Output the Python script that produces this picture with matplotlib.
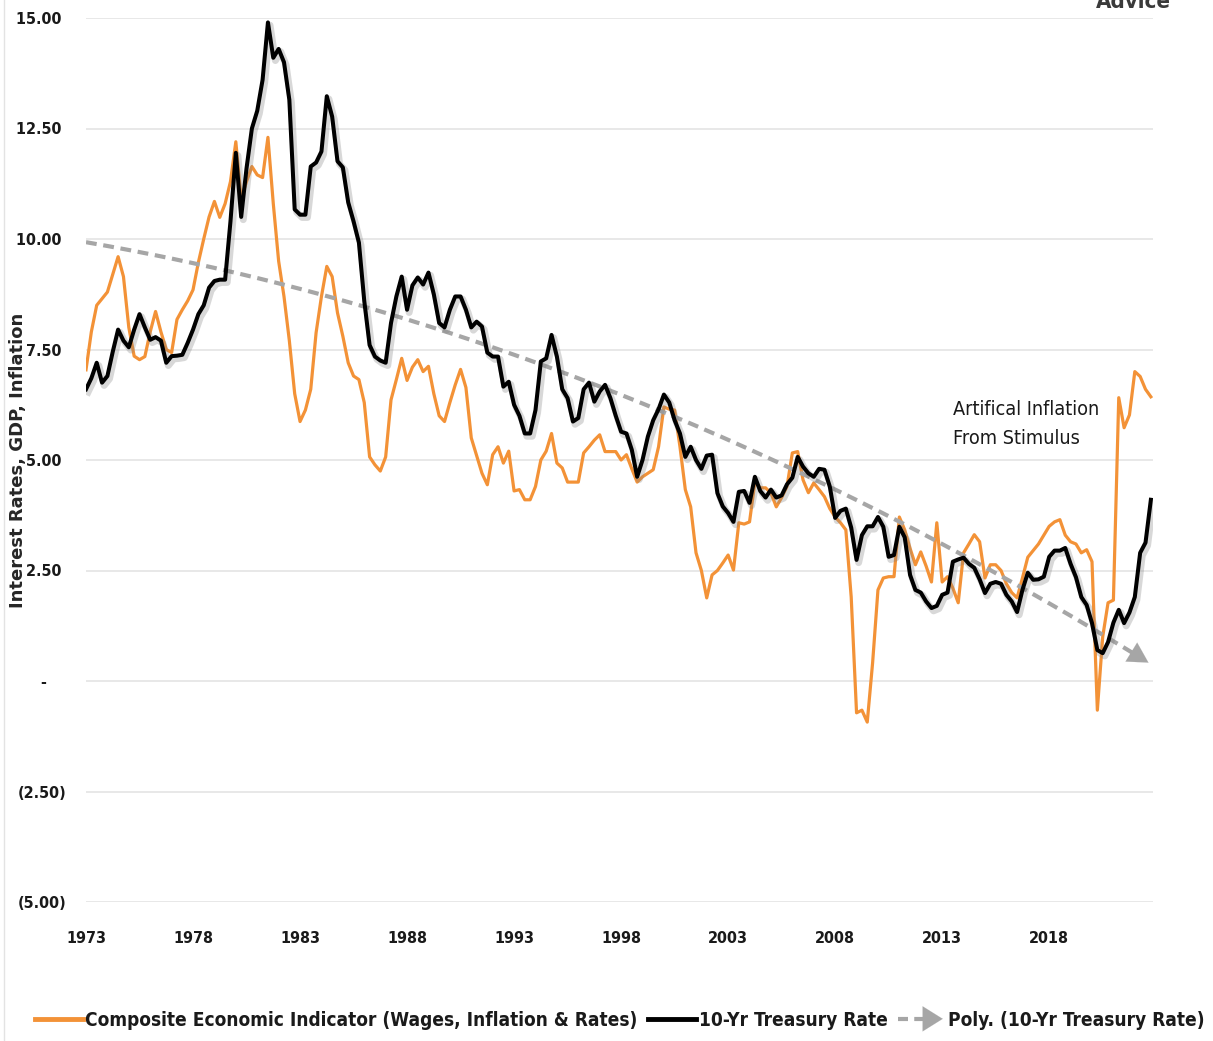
import os
import numpy as np
import matplotlib
matplotlib.use('Agg')
import matplotlib.pyplot as plt
import matplotlib.patheffects as pe
from matplotlib.lines import Line2D
from matplotlib.patches import FancyArrowPatch
from matplotlib.legend_handler import HandlerBase
from matplotlib.ticker import FuncFormatter, FixedLocator
from matplotlib import font_manager as fm

# ---------------- data (quarterly, 1973Q1 .. 2022Q4) ----------------
treasury = [
    6.60, 6.85, 7.20, 6.75,   6.90, 7.45, 7.95, 7.70,   7.55, 7.95, 8.30, 8.00,
    7.72, 7.78, 7.70, 7.20,   7.35, 7.36, 7.38, 7.65,   7.95, 8.30, 8.50, 8.90,
    9.05, 9.08, 9.08, 10.40,  11.95, 10.50, 11.60, 12.50, 12.90, 13.60, 14.90, 14.10,
    14.30, 14.00, 13.15, 10.67, 10.55, 10.55, 11.64, 11.73, 11.98, 13.23, 12.77, 11.76,
    11.62, 10.83, 10.40, 9.92, 8.60, 7.60, 7.34, 7.25,  7.20, 8.10, 8.70, 9.15,
    8.40, 8.95, 9.13, 8.97,   9.24, 8.75, 8.10, 8.00,   8.40, 8.70, 8.70, 8.40,
    8.00, 8.13, 8.02, 7.43,   7.34, 7.34, 6.66, 6.77,   6.25, 6.00, 5.60, 5.60,
    6.13, 7.23, 7.30, 7.83,   7.34, 6.60, 6.40, 5.87,   5.95, 6.60, 6.75, 6.32,
    6.55, 6.70, 6.40, 6.00,   5.64, 5.60, 5.23, 4.62,   5.00, 5.53, 5.90, 6.15,
    6.48, 6.30, 5.90, 5.60,   5.07, 5.30, 5.00, 4.80,   5.10, 5.12, 4.25, 3.95,
    3.80, 3.60, 4.28, 4.30,   4.03, 4.62, 4.30, 4.15,   4.33, 4.15, 4.20, 4.45,
    4.60, 5.07, 4.85, 4.70,   4.62, 4.80, 4.78, 4.40,   3.69, 3.85, 3.90, 3.47,
    2.74, 3.30, 3.50, 3.50,   3.71, 3.49, 2.81, 2.85,   3.49, 3.25, 2.40, 2.06,
    2.00, 1.80, 1.65, 1.70,   1.95, 2.00, 2.70, 2.75,   2.79, 2.65, 2.56, 2.30,
    1.99, 2.20, 2.24, 2.20,   1.95, 1.80, 1.56, 2.06,   2.45, 2.29, 2.30, 2.36,
    2.81, 2.95, 2.95, 3.01,   2.65, 2.35, 1.90, 1.72,   1.31, 0.70, 0.63, 0.88,
    1.32, 1.61, 1.31, 1.55,   1.90, 2.90, 3.13, 4.10,
]

composite = [
    7.04, 7.90, 8.50, 8.65,   8.80, 9.20, 9.60, 9.15,   8.00, 7.35, 7.27, 7.34,
    7.90, 8.36, 7.90, 7.50,   7.43, 8.18, 8.40, 8.60,   8.85, 9.47, 10.00, 10.50,
    10.85, 10.49, 10.80, 11.30, 12.20, 10.90, 11.30, 11.64, 11.45, 11.39, 12.30, 10.80,
    9.50, 8.70, 7.70, 6.50,   5.87, 6.13, 6.60, 7.88,   8.70, 9.38, 9.15, 8.33,
    7.80, 7.20, 6.90, 6.82,   6.30, 5.07, 4.89, 4.75,   5.07, 6.36, 6.82, 7.30,
    6.80, 7.10, 7.27, 7.00,   7.12, 6.50, 6.00, 5.87,   6.30, 6.70, 7.05, 6.64,
    5.50, 5.10, 4.70, 4.44,   5.12, 5.30, 4.93, 5.20,   4.30, 4.33, 4.10, 4.10,
    4.40, 5.00, 5.20, 5.60,   4.93, 4.82, 4.50, 4.50,   4.50, 5.16, 5.30, 5.45,
    5.57, 5.19, 5.19, 5.19,   5.00, 5.12, 4.80, 4.50,   4.62, 4.70, 4.78, 5.30,
    6.20, 6.15, 6.13, 5.30,   4.33, 3.94, 2.90, 2.50,   1.88, 2.40, 2.50, 2.67,
    2.85, 2.51, 3.58, 3.55,   3.60, 4.50, 4.37, 4.37,   4.25, 3.94, 4.15, 4.40,
    5.16, 5.19, 4.55, 4.26,   4.48, 4.33, 4.17, 3.90,   3.71, 3.58, 3.42, 1.90,
    -0.72, -0.66, -0.93, 0.41, 2.06, 2.33, 2.36, 2.36,  3.71, 3.42, 3.00, 2.63,
    2.92, 2.60, 2.24, 3.58,   2.24, 2.36, 2.10, 1.77,   2.90, 3.10, 3.31, 3.15,
    2.33, 2.63, 2.63, 2.50,   2.20, 2.00, 1.88, 2.33,   2.80, 2.95, 3.10, 3.30,
    3.50, 3.60, 3.65, 3.30,   3.15, 3.10, 2.90, 2.97,   2.70, -0.66, 1.00, 1.77,
    1.83, 6.41, 5.73, 6.02,   7.00, 6.89, 6.60, 6.43,
]

tick_labels = ['1973', '1978', '1983', '1988', '1993', '1998', '2003', '2008', '2013', '2018']
y_ticks = [-5.0, -2.5, 0.0, 2.5, 5.0, 7.5, 10.0, 12.5, 15.0]

series_names = ['Composite Economic Indicator (Wages, Inflation & Rates)',
                '10-Yr Treasury Rate',
                'Poly. (10-Yr Treasury Rate)']
note_text = 'Artifical Inflation\nFrom Stimulus'


# ---------------- fonts: look for a narrow / condensed face ----------------
def find_font(cands):
    files = [f.fname for f in fm.fontManager.ttflist]
    for c in cands:
        for fn in files:
            if os.path.basename(fn).lower().replace(' ', '') == c.lower():
                return fn
    return None


bold_file = find_font(['LiberationSansNarrow-Bold.ttf', 'DejaVuSansCondensed-Bold.ttf',
                       'RobotoCondensed-Bold.ttf', 'OpenSans_Condensed-Bold.ttf',
                       'OpenSansCondensed-Bold.ttf', 'NotoSans-CondensedBold.ttf',
                       'NotoSansDisplay-CondensedBold.ttf'])
reg_file = find_font(['LiberationSansNarrow-Regular.ttf', 'DejaVuSansCondensed.ttf',
                      'RobotoCondensed-Regular.ttf', 'OpenSans_Condensed-Regular.ttf',
                      'NotoSans-Condensed.ttf', 'NotoSansDisplay-Condensed.ttf'])


def fp_bold(size):
    if bold_file:
        return fm.FontProperties(fname=bold_file, size=size)
    return fm.FontProperties(family='Roboto', weight='bold', size=size * 0.92)


def fp_reg(size):
    if reg_file:
        return fm.FontProperties(fname=reg_file, size=size)
    return fm.FontProperties(family='Roboto', size=size * 0.92)


ORANGE = '#F39237'
GREY = '#A6A6A6'

W, H = 1213, 1041
fig = plt.figure(figsize=(W / 100, H / 100), dpi=100)
fig.patch.set_facecolor('white')

left, right, top, bottom = 86, 1153, 18, 902
ax = fig.add_axes([left / W, 1 - bottom / H, (right - left) / W, (bottom - top) / H])

x = np.arange(len(treasury))
tr = np.array(treasury)
co = np.array(composite)

# trendline: polynomial (order 2) fit of the treasury rate
coef = np.polyfit(x, tr, 2)
trend = np.polyval(coef, x)

ax.plot(x, co, color=ORANGE, lw=2.3, zorder=3)
ax.plot(x[:-2], trend[:-2], color=GREY, lw=3.0, ls=(0, (2.6, 1.6)), zorder=4)
ax.annotate('', xy=(x[-1], trend[-1]), xytext=(x[-4], trend[-4]),
            arrowprops=dict(arrowstyle='-|>,head_length=0.9,head_width=0.5',
                            color=GREY, lw=0.1, mutation_scale=16), zorder=4)
ax.plot(x, tr, color='black', lw=2.9, zorder=5,
        path_effects=[pe.SimpleLineShadow(offset=(1.5, -2.0), shadow_color='#808080', alpha=0.3,
                                          linewidth=5.0),
                      pe.Normal()])

ax.set_xlim(0, 199.4)
ax.set_ylim(-5, 15)
ax.yaxis.set_major_locator(FixedLocator(y_ticks))
ax.xaxis.set_major_locator(FixedLocator(np.arange(len(tick_labels)) * 20))
ax.set_xticklabels(tick_labels)


def fmt(v, pos=None):
    if abs(v) < 1e-9:
        return '-    '
    if v < 0:
        return '(%.2f)' % abs(v)
    return '%.2f ' % v


ax.yaxis.set_major_formatter(FuncFormatter(fmt))
ax.grid(axis='y', color='#E6E6E6', lw=1.3, zorder=0)
ax.set_axisbelow(True)
for s in ax.spines.values():
    s.set_visible(False)
ax.tick_params(length=0)
ax.tick_params(axis='y', pad=14)
ax.tick_params(axis='x', pad=21)
for lab in ax.get_yticklabels() + ax.get_xticklabels():
    lab.set_fontproperties(fp_bold(11.5))
    lab.set_color('#1a1a1a')

fig.text(18 / W, 1 - 460 / H, 'Interest Rates, GDP, Inflation', rotation=90,
         ha='center', va='center', fontsize=13, fontweight='bold', family='DejaVu Sans',
         color='#262626')

fig.text(953 / W, 1 - 424 / H, note_text, ha='left', va='center',
         fontproperties=fp_reg(14.2), color='#1a1a1a', linespacing=1.7)

# logo fragment at top right (cut by the top edge, as in the source)
fig.text(1133 / W, 1 - 2 / H, 'Advice', ha='center', va='center',
         fontproperties=fp_bold(16), color='#3a3a3a')

# thin border line at left edge
fig.add_artist(Line2D([4 / W, 4 / W], [0, 1], color='#E3E3E3', lw=1.0))


class ArrowHandler(HandlerBase):
    def create_artists(self, legend, orig, xdescent, ydescent, width, height, fontsize, trans):
        y = height / 2 - ydescent
        ln = Line2D([-xdescent, -xdescent + width * 0.72], [y, y], color=GREY, lw=3.0,
                    ls=(0, (2.4, 1.5)), transform=trans)
        ar = FancyArrowPatch((-xdescent + width * 0.55, y), (-xdescent + width, y),
                             arrowstyle='-|>,head_length=0.8,head_width=0.5', mutation_scale=18,
                             color=GREY, lw=0.1, transform=trans)
        return [ln, ar]


h1 = Line2D([], [], color=ORANGE, lw=3.5)
h2 = Line2D([], [], color='black', lw=3.5)
h3 = Line2D([], [], color=GREY)
leg = fig.legend([h1, h2, h3], series_names, loc='center', bbox_to_anchor=(620 / W, 1 - 1020 / H),
                 ncol=3, frameon=False, handlelength=2.5, handletextpad=0.15, columnspacing=0.55,
                 handler_map={h3: ArrowHandler()}, prop=fp_bold(13.7))
for t in leg.get_texts():
    t.set_color('#1a1a1a')

fig.savefig('out.png', dpi=100, facecolor='white')
